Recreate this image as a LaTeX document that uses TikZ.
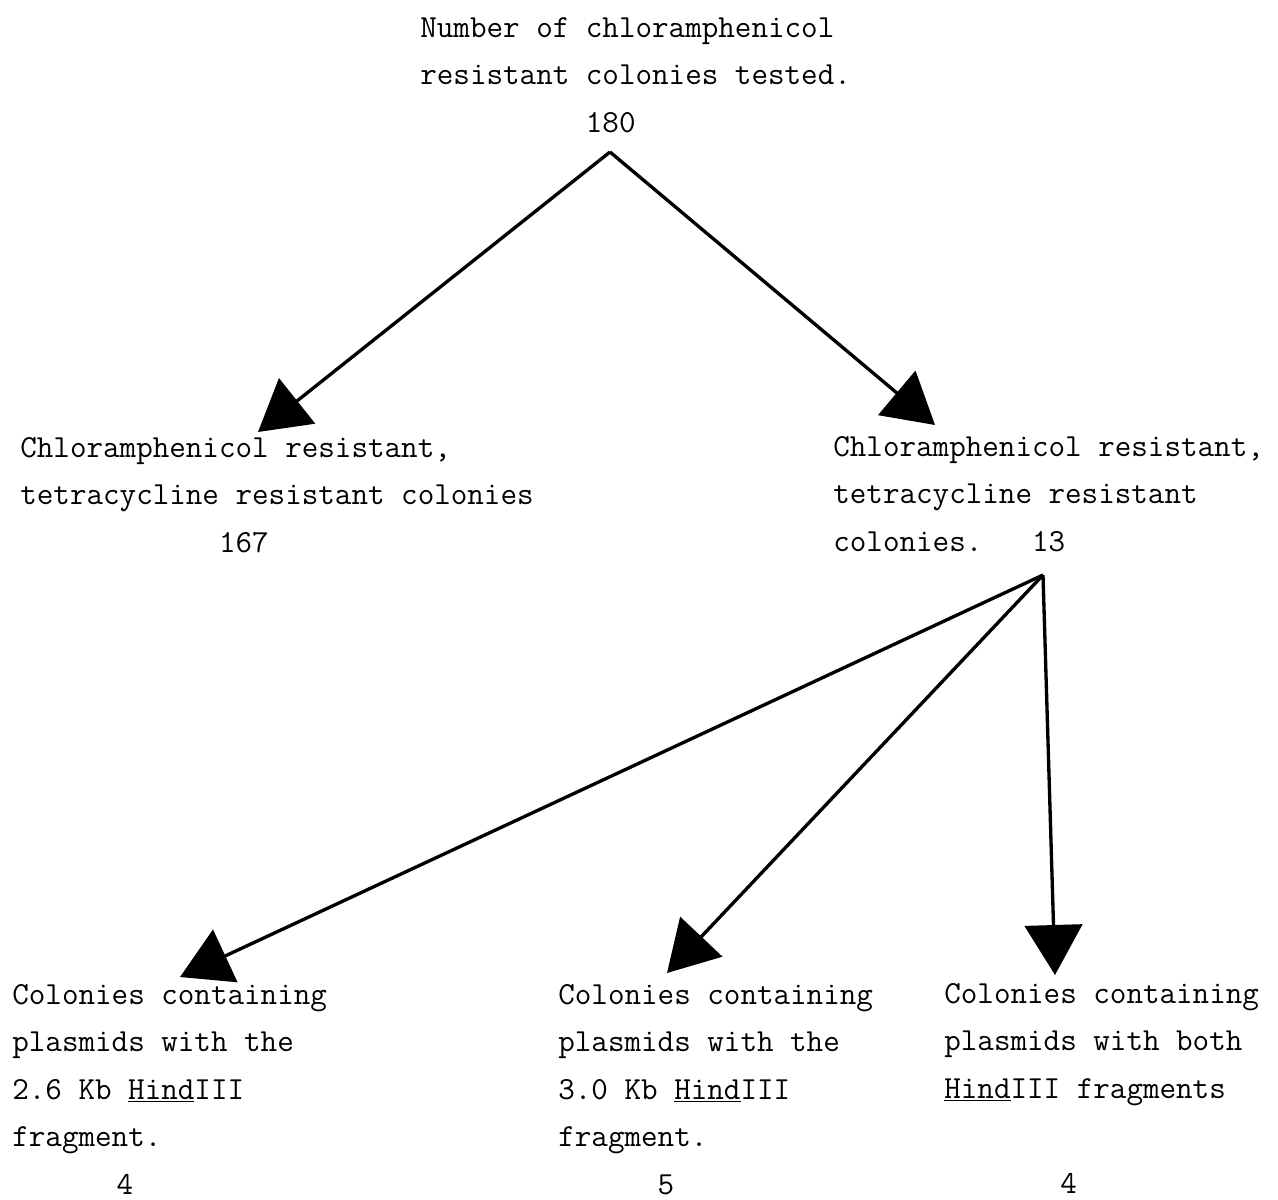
\documentclass[tikz,border=0pt]{standalone}
\usetikzlibrary{arrows.meta}
\begin{document}
\begin{tikzpicture}[x=0.02cm,y=-0.02cm,
  txt/.style={font=\fontsize{18.3}{27}\selectfont\ttfamily, align=left, inner sep=0pt, anchor=base west},
  arr/.style={line width=1.9pt, -{Triangle[length=1.0cm,width=1.15cm]}}]
\useasboundingbox (0,0) rectangle (1278,1200);
% anchor base = baseline of the last line
\node[txt] (top) at (420,132) {Number of chloramphenicol\\resistant colonies tested.\\\phantom{xxxxxxxxxx}180};
\node[txt] (left) at (20,552) {Chloramphenicol resistant,\\tetracycline resistant colonies\\\phantom{xxxxxxxxxxxx}167};
\node[txt] (right) at (833,551) {Chloramphenicol resistant,\\tetracycline resistant\\colonies.\ \ \ 13};
\node[txt] (b1) at (12,1194) {Colonies containing\\plasmids with the\\2.6 Kb \underline{Hind}III\\fragment.\\\phantom{xxxxxx}\hspace*{0.15em}4};
\node[txt] (b2) at (558,1194) {Colonies containing\\plasmids with the\\3.0 Kb \underline{Hind}III\\fragment.\\\phantom{xxxxxx}5};
\node[txt] (b3) at (944,1193) {Colonies containing\\plasmids with both\\\underline{Hind}III fragments\\\\\phantom{xxxxxxx}4};
\coordinate (apexA) at (610,152);
\coordinate (tipA) at (258,432);
\coordinate (tipB) at (935,425);
\coordinate (apexB) at (1043,575);
\coordinate (tipC) at (180,977);
\coordinate (tipD) at (667,973);
\coordinate (tipE) at (1055,975);
\draw[arr] (apexA) -- (tipA);
\draw[arr] (apexA) -- (tipB);
\draw[arr] (apexB) -- (tipC);
\draw[arr] (apexB) -- (tipD);
\draw[arr] (apexB) -- (tipE);
\end{tikzpicture}
\end{document}
